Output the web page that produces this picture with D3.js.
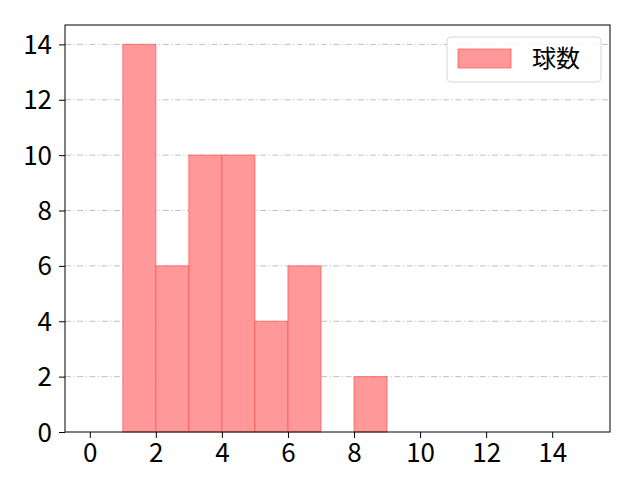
<!DOCTYPE html>
<html><head><meta charset="utf-8">
<script src="https://cdn.jsdelivr.net/npm/d3@7"></script>
<style>body{margin:0;background:#fff}</style>
</head><body><svg id="c" width="640" height="480"></svg>
<script>
const binStarts = [1, 2, 3, 4, 5, 6, 8];
const binCounts = [14, 6, 10, 10, 4, 6, 2];
const binWidth = 1;
const xTicks = [0, 2, 4, 6, 8, 10, 12, 14];
const yTicks = [0, 2, 4, 6, 8, 10, 12, 14];
const seriesName = "球数";
const FONT = "'Noto Sans CJK JP', 'Noto Sans', sans-serif";

const svg = d3.select("#c");
const L = 65, R = 610, T = 25, B = 432;
const x = d3.scaleLinear().domain([-0.75, 15.75]).range([L, R]);
const y = d3.scaleLinear().domain([0, 14.7]).range([B, T]);

// grid
svg.append("g").selectAll("line").data(yTicks.filter(d => d > 0)).join("line")
  .attr("x1", L).attr("x2", R).attr("y1", d => y(d)).attr("y2", d => y(d))
  .attr("stroke", "#b0b0b0").attr("stroke-width", 0.8).attr("stroke-dasharray", "6,2.5,1.2,2.5");

// bars
svg.append("g").selectAll("rect").data(binStarts).join("rect")
  .attr("x", d => x(d)).attr("width", x(binWidth) - x(0))
  .attr("y", (d, i) => y(binCounts[i])).attr("height", (d, i) => y(0) - y(binCounts[i]))
  .attr("fill", "#ff9999").attr("stroke", "#ff5050").attr("stroke-opacity", 0.7).attr("stroke-width", 1);

// axes
const xa = svg.append("g").attr("transform", `translate(0,${B})`)
  .call(d3.axisBottom(x).tickValues(xTicks).tickSize(6).tickPadding(4));
const ya = svg.append("g").attr("transform", `translate(${L},0)`)
  .call(d3.axisLeft(y).tickValues(yTicks).tickSize(6).tickPadding(7));
[xa, ya].forEach(a => {
  a.attr("font-size", 26).attr("font-family", FONT);
  a.select(".domain").remove();
  a.selectAll("line").attr("stroke", "#000").attr("stroke-width", 1);
  a.selectAll("text").attr("fill", "#000");
});
ya.selectAll("text").attr("dy", "0.35em");
xa.selectAll("text").attr("dy", "0.75em");
svg.append("rect").attr("x", L).attr("y", T).attr("width", R - L).attr("height", B - T)
  .attr("fill", "none").attr("stroke", "#000").attr("stroke-width", 1);

// legend
const lg = svg.append("g");
lg.append("rect").attr("x", 447).attr("y", 37).attr("width", 154).attr("height", 45).attr("rx", 4)
  .attr("fill", "#fff").attr("fill-opacity", 0.8).attr("stroke", "#d6d6d6");
lg.append("rect").attr("x", 458).attr("y", 49).attr("width", 53).attr("height", 19)
  .attr("fill", "#ff9999").attr("stroke", "#ff5050").attr("stroke-opacity", 0.7);
lg.append("text").attr("x", 532).attr("y", 59).attr("dy", "0.35em")
  .attr("font-family", FONT).attr("font-size", 24).text(seriesName);
</script></body></html>
